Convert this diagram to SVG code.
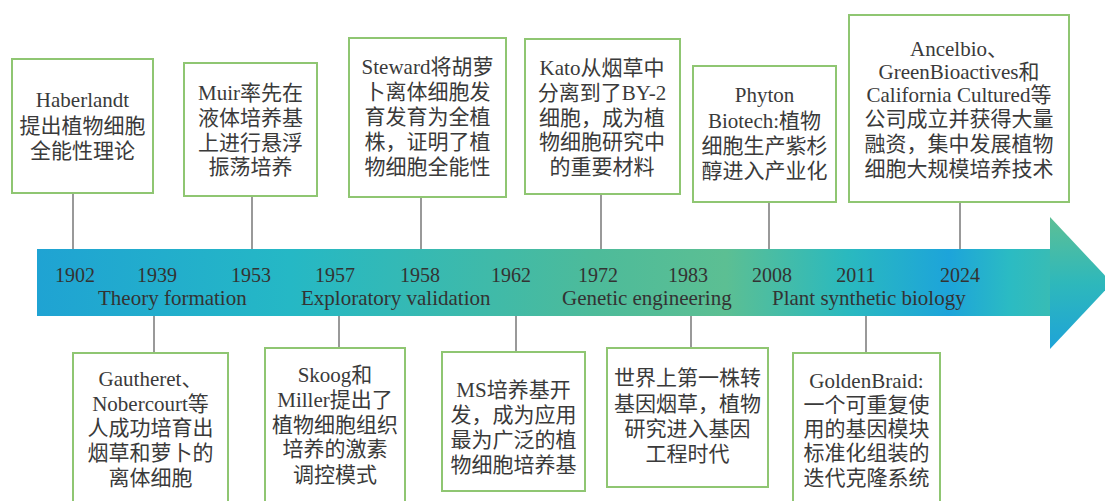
<svg xmlns="http://www.w3.org/2000/svg" width="1105" height="501" viewBox="0 0 1105 501">
<style>
.box{fill:#fff;stroke:#8fc672;stroke-width:2}
.t{font-family:"Liberation Serif","Noto Sans CJK SC",serif;font-size:21px;fill:#3a3a3a;text-anchor:middle}
.yr{font-family:"Liberation Serif",serif;font-size:20px;fill:#333;text-anchor:middle}
.ph{font-family:"Liberation Serif",serif;font-size:21px;fill:#333}
.con{stroke:#8e8e8e;stroke-width:1.8;fill:none}
</style>
<defs>
<linearGradient id="band" gradientUnits="userSpaceOnUse" x1="37" y1="0" x2="1050" y2="0">
<stop offset="0" stop-color="#1fa3d3"/>
<stop offset="0.25" stop-color="#25b8c5"/>
<stop offset="0.55" stop-color="#4dbb9a"/>
<stop offset="0.68" stop-color="#5cbf93"/>
<stop offset="0.8" stop-color="#2ab9bf"/>
<stop offset="0.9" stop-color="#1da4da"/>
<stop offset="0.96" stop-color="#2bbbc3"/>
<stop offset="1" stop-color="#38bcb5"/>
</linearGradient>
<linearGradient id="head" x1="0" y1="0" x2="0" y2="1">
<stop offset="0" stop-color="#5dbf95"/>
<stop offset="0.5" stop-color="#2eb8bb"/>
<stop offset="1" stop-color="#1ea3d8"/>
</linearGradient>
</defs>

<g id="timeline">
<rect x="37" y="249" width="1014" height="67" fill="url(#band)"/>
<polygon points="1050,217 1112,283 1050,349" fill="url(#head)"/>
<text class="yr" x="75" y="282">1902</text>
<text class="yr" x="157" y="282">1939</text>
<text class="yr" x="251" y="282">1953</text>
<text class="yr" x="335" y="282">1957</text>
<text class="yr" x="420" y="282">1958</text>
<text class="yr" x="511" y="282">1962</text>
<text class="yr" x="598" y="282">1972</text>
<text class="yr" x="688" y="282">1983</text>
<text class="yr" x="772" y="282">2008</text>
<text class="yr" x="856" y="282">2011</text>
<text class="yr" x="960" y="282">2024</text>
<text class="ph" x="98" y="305">Theory formation</text>
<text class="ph" x="301" y="305">Exploratory validation</text>
<text class="ph" x="562" y="305">Genetic engineering</text>
<text class="ph" x="772" y="305">Plant synthetic biology</text>
</g>

<g id="connectors">
<line class="con" x1="73" y1="193" x2="73" y2="249"/>
<line class="con" x1="252" y1="196" x2="252" y2="249"/>
<line class="con" x1="421" y1="197" x2="421" y2="249"/>
<line class="con" x1="601" y1="194" x2="601" y2="249"/>
<line class="con" x1="769" y1="202" x2="769" y2="249"/>
<line class="con" x1="960" y1="202" x2="960" y2="249"/>
<line class="con" x1="154" y1="316" x2="154" y2="353"/>
<line class="con" x1="339" y1="316" x2="339" y2="348"/>
<line class="con" x1="516" y1="316" x2="516" y2="352"/>
<line class="con" x1="691" y1="316" x2="691" y2="348"/>
<line class="con" x1="866" y1="316" x2="866" y2="353"/>
</g>

<g id="n1902">
<rect class="box" x="12" y="59" width="141" height="134"/>
<text class="t" x="82.5" y="107">Haberlandt</text>
<text class="t" x="82.5" y="133">提出植物细胞</text>
<text class="t" x="82.5" y="158">全能性理论</text>
</g>
<g id="n1953">
<rect class="box" x="184" y="63" width="133" height="133"/>
<text class="t" x="250.5" y="100">Muir率先在</text>
<text class="t" x="250.5" y="125">液体培养基</text>
<text class="t" x="250.5" y="150">上进行悬浮</text>
<text class="t" x="250.5" y="174">振荡培养</text>
</g>
<g id="n1958">
<rect class="box" x="349" y="38" width="157" height="159"/>
<text class="t" x="427.5" y="74">Steward将胡萝</text>
<text class="t" x="427.5" y="99">卜离体细胞发</text>
<text class="t" x="427.5" y="124">育发育为全植</text>
<text class="t" x="427.5" y="149">株，证明了植</text>
<text class="t" x="427.5" y="174">物细胞全能性</text>
</g>
<g id="n1972">
<rect class="box" x="525" y="39" width="155" height="155"/>
<text class="t" x="602" y="75">Kato从烟草中</text>
<text class="t" x="602" y="100">分离到了BY-2</text>
<text class="t" x="602" y="125">细胞，成为植</text>
<text class="t" x="602" y="149">物细胞研究中</text>
<text class="t" x="602" y="174">的重要材料</text>
</g>
<g id="n2008">
<rect class="box" x="693" y="66" width="143" height="136"/>
<text class="t" x="764.5" y="102">Phyton</text>
<text class="t" x="764.5" y="128">Biotech:植物</text>
<text class="t" x="764.5" y="153">细胞生产紫杉</text>
<text class="t" x="764.5" y="178">醇进入产业化</text>
</g>
<g id="n2024">
<rect class="box" x="849" y="15" width="220" height="187"/>
<text class="t" x="959" y="56">Ancelbio、</text>
<text class="t" x="959" y="79">GreenBioactives和</text>
<text class="t" x="959" y="102">California Cultured等</text>
<text class="t" x="959" y="126">公司成立并获得大量</text>
<text class="t" x="959" y="151">融资，集中发展植物</text>
<text class="t" x="959" y="176">细胞大规模培养技术</text>
</g>

<g id="n1939">
<rect class="box" x="73" y="353" width="155" height="152"/>
<text class="t" x="150.5" y="386">Gautheret、</text>
<text class="t" x="150.5" y="411">Nobercourt等</text>
<text class="t" x="150.5" y="435">人成功培育出</text>
<text class="t" x="150.5" y="460">烟草和萝卜的</text>
<text class="t" x="150.5" y="485">离体细胞</text>
</g>
<g id="n1957">
<rect class="box" x="265" y="348" width="140" height="157"/>
<text class="t" x="335" y="382">Skoog和</text>
<text class="t" x="335" y="407">Miller提出了</text>
<text class="t" x="335" y="432">植物细胞组织</text>
<text class="t" x="335" y="456">培养的激素</text>
<text class="t" x="335" y="482">调控模式</text>
</g>
<g id="n1962">
<rect class="box" x="442" y="352" width="143" height="139"/>
<text class="t" x="513.5" y="397">MS培养基开</text>
<text class="t" x="513.5" y="422">发，成为应用</text>
<text class="t" x="513.5" y="447">最为广泛的植</text>
<text class="t" x="513.5" y="472">物细胞培养基</text>
</g>
<g id="n1983">
<rect class="box" x="607" y="348" width="161" height="139"/>
<text class="t" x="687.5" y="385">世界上第一株转</text>
<text class="t" x="687.5" y="411">基因烟草，植物</text>
<text class="t" x="687.5" y="436">研究进入基因</text>
<text class="t" x="687.5" y="461">工程时代</text>
</g>
<g id="n2011">
<rect class="box" x="793" y="353" width="147" height="152"/>
<text class="t" x="866.5" y="388">GoldenBraid:</text>
<text class="t" x="866.5" y="412">一个可重复使</text>
<text class="t" x="866.5" y="436">用的基因模块</text>
<text class="t" x="866.5" y="460">标准化组装的</text>
<text class="t" x="866.5" y="485">迭代克隆系统</text>
</g>
</svg>
